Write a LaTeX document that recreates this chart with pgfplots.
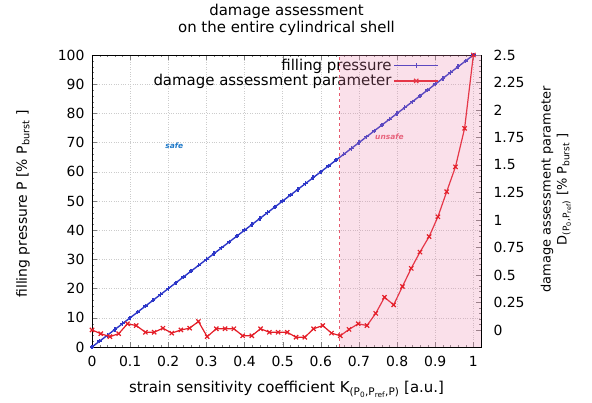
\documentclass[border=0pt]{standalone}
\usepackage{fontspec}
\setmainfont{DejaVu Sans}
\usepackage{pgfplots}
\pgfplotsset{compat=1.18}
\definecolor{bluel}{RGB}{45,55,200}
\definecolor{redl}{RGB}{228,30,40}
\definecolor{shade}{RGB}{235,130,170}
\definecolor{safec}{RGB}{30,120,200}
\definecolor{unsafec}{RGB}{230,90,110}
\begin{document}
\begin{tikzpicture}
\pgfplotsset{
  every axis/.append style={font=\fontsize{14}{17}\selectfont,
    /pgf/number format/assume math mode=true},
  myaxis/.style={scale only axis, width=389bp, height=292bp,
    xmin=0, xmax=1.02, tick align=inside, minor tick num=4,
    major tick length=5bp, minor tick length=2.5bp},
}
% left axis: filling pressure
\begin{axis}[myaxis,
  ymin=0, ymax=100,
  xtick={0,0.1,0.2,0.3,0.4,0.5,0.6,0.7,0.8,0.9,1},
  ytick={0,10,20,30,40,50,60,70,80,90,100},
  xtick pos=both, ytick pos=left,
  grid=major, grid style={gray!40, dotted},
  yticklabel style={xshift=-4bp},
  xticklabel style={yshift=-6bp},
  title={damage assessment\\on the entire cylindrical shell},
  title style={align=center, font=\fontsize{15}{17.5}\selectfont, inner sep=0pt,
    at={(axis description cs:0.5,1.10)}, anchor=center},
  xlabel={strain sensitivity coefficient K\textsubscript{(P\textsubscript{0},P\textsubscript{ref},P)} [a.u.]},
  xlabel style={at={(axis description cs:0.5,-0.145)}, anchor=center,
    inner sep=0pt, font=\fontsize{15}{18}\selectfont},
  ylabel={filling pressure P [\% P\textsubscript{burst} ]},
  ylabel style={at={(axis description cs:-0.177,0.49)}, anchor=center, inner sep=0pt},
  legend plot pos=right, legend cell align=right,
  legend style={draw=none, fill=none, at={(axis description cs:0.90,1.0)},
    anchor=north east, font=\fontsize{15}{18}\selectfont,
    row sep=-1.5bp},
  legend image code/.code={\draw[mark repeat=2,mark phase=2,#1]
    plot coordinates {(0bp,0bp) (22bp,0bp) (44bp,0bp)};},
]
\addplot[bluel, line width=1.4bp, mark=+, mark size=2.2bp] coordinates {
(0,0) (0.02,2) (0.04,4) (0.06,6) (0.08,8) (0.1,10) (0.12,12) (0.14,14)
(0.16,16) (0.18,18) (0.2,20) (0.22,22) (0.24,24) (0.26,26) (0.28,28)
(0.3,30) (0.32,32) (0.34,34) (0.36,36) (0.38,38) (0.4,40) (0.42,42)
(0.44,44) (0.46,46) (0.48,48) (0.5,50) (0.52,52) (0.54,54) (0.56,56)
(0.58,58) (0.6,60) (0.62,62) (0.64,64) (0.66,66) (0.68,68) (0.7,70)
(0.72,72) (0.74,74) (0.76,76) (0.78,78) (0.8,80) (0.82,82) (0.84,84)
(0.86,86) (0.88,88) (0.9,90) (0.92,92) (0.94,94) (0.96,96) (0.98,98)
(1,100)
};
\addlegendentry{filling pressure}
\addlegendimage{redl, line width=1.2bp, mark=x, mark size=3bp}
\addlegendentry{damage assessment parameter}
\node[font=\fontsize{7.5}{9}\selectfont\bfseries\itshape, text=safec]
  at (axis cs:0.216,68.8) {safe};
\node[font=\fontsize{7.5}{9}\selectfont\bfseries\itshape, text=unsafec]
  at (axis cs:0.78,72) {unsafe};
\end{axis}
% right axis: damage assessment parameter
\begin{axis}[myaxis,
  ymin=-0.155, ymax=2.5,
  axis x line=none, axis y line*=right,
  ytick={0,0.25,0.5,0.75,1,1.25,1.5,1.75,2,2.25,2.5},
  yticklabel style={xshift=9bp},
  ylabel={damage assessment parameter\\D\textsubscript{(P\textsubscript{0},P\textsubscript{ref})} [\% P\textsubscript{burst} ]},
  ylabel style={at={(axis description cs:1.193,0.54)}, anchor=center,
    align=center, inner sep=0pt, font=\fontsize{13}{16}\selectfont},
]
\addplot[redl, line width=1.2bp, mark=x, mark size=3bp] coordinates {
(0.000,0.000) (0.023,-0.034) (0.047,-0.061) (0.070,-0.034) (0.093,0.056)
(0.116,0.040) (0.140,-0.021) (0.163,-0.021) (0.186,0.016) (0.209,-0.029)
(0.233,0.000) (0.256,0.016) (0.279,0.077) (0.302,-0.061) (0.326,0.011)
(0.349,0.011) (0.372,0.011) (0.395,-0.053) (0.419,-0.053) (0.442,0.011)
(0.465,-0.021) (0.488,-0.021) (0.512,-0.021) (0.535,-0.066) (0.558,-0.066)
(0.581,0.011) (0.605,0.040) (0.628,-0.029) (0.651,-0.053) (0.674,0.005)
(0.698,0.056) (0.721,0.040) (0.744,0.151) (0.767,0.297) (0.791,0.228)
(0.814,0.395) (0.837,0.560) (0.860,0.708) (0.884,0.849) (0.907,1.029)
(0.930,1.257) (0.953,1.483) (0.977,1.833) (1.000,2.500)
};
% unsafe region
\addplot[draw=none, fill=shade, fill opacity=0.25] coordinates {
(0.65,-0.155) (1.02,-0.155) (1.02,2.5) (0.65,2.5)} -- cycle;
\addplot[unsafec, thick, dashed] coordinates {(0.65,-0.155) (0.65,2.5)};
\end{axis}
\path ([shift={(-92bp,-56bp)}]current axis.south west) rectangle ++(592bp,403bp);
\end{tikzpicture}
\end{document}
